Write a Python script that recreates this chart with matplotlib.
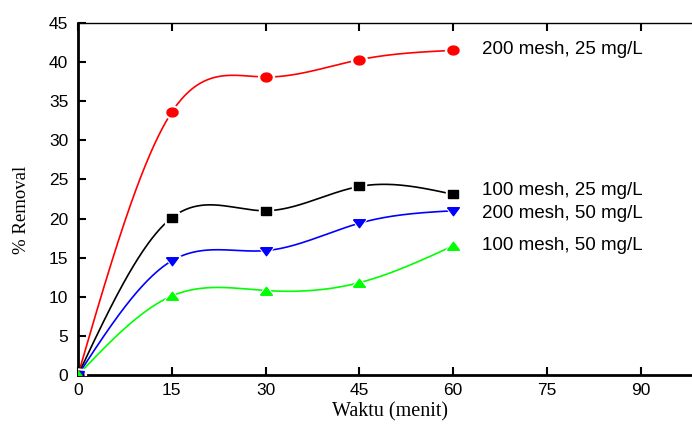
import numpy as np
import matplotlib
matplotlib.use("Agg")
import matplotlib.pyplot as plt

# waktu (menit) and % removal
waktu = [0, 15, 30, 45, 60]
r200_25 = [0, 33.6, 38.1, 40.3, 41.5]
r100_25 = [0, 20.1, 21.0, 24.1, 23.1]
r200_50 = [0, 14.6, 15.9, 19.4, 21.0]
r100_50 = [0, 10.1, 10.8, 11.8, 16.5]
labels = ["200 mesh, 25 mg/L", "100 mesh, 25 mg/L",
          "200 mesh, 50 mg/L", "100 mesh, 50 mg/L"]
label_y = [41.6, 23.6, 20.6, 16.6]

def spline(x, y, n=300):
    # natural cubic spline, only for drawing the smooth line
    x = np.asarray(x, float); y = np.asarray(y, float)
    m = len(x); h = np.diff(x)
    A = np.zeros((m, m)); b = np.zeros(m)
    A[0, 0] = A[-1, -1] = 1
    for i in range(1, m - 1):
        A[i, i-1] = h[i-1]; A[i, i] = 2*(h[i-1]+h[i]); A[i, i+1] = h[i]
        b[i] = 6*((y[i+1]-y[i])/h[i] - (y[i]-y[i-1])/h[i-1])
    M = np.linalg.solve(A, b)
    xs = np.linspace(x[0], x[-1], n)
    k = np.clip(np.searchsorted(x, xs) - 1, 0, m - 2)
    t0 = x[k+1] - xs; t1 = xs - x[k]; hk = h[k]
    ys = (M[k]*t0**3 + M[k+1]*t1**3)/(6*hk) + (y[k]/hk - M[k]*hk/6)*t0 + (y[k+1]/hk - M[k+1]*hk/6)*t1
    return xs, ys

# the original picture is stretched sideways, so are its symbols
sx = 1.25
th = np.linspace(0, 2*np.pi, 40)
m_circle = list(zip(sx*np.cos(th), np.sin(th)))
m_square = [(-sx*1.0, -1), (sx*1.0, -1), (sx*1.0, 1), (-sx*1.0, 1), (-sx*1.0, -1)]
m_tdown = [(-sx, 0.8), (sx, 0.8), (0, -0.9), (-sx, 0.8)]
m_tup = [(-sx, -0.8), (sx, -0.8), (0, 0.9), (-sx, -0.8)]

fig = plt.figure(figsize=(6.92, 4.26), dpi=100)
ax = fig.add_axes([78/692, 51/426, 625/692, 352/426])

series = [(r200_25, "#ff0000", m_circle, 8), (r100_25, "black", m_square, 7),
          (r200_50, "#0000ff", m_tdown, 8.5), (r100_50, "#00ff00", m_tup, 8.5)]
for (vals, c, mk, ms), lab, ly in zip(series, labels, label_y):
    xs, ys = spline(waktu, vals)
    ax.plot(xs, ys, color=c, lw=1.2, zorder=2)
    ax.plot(waktu, vals, ls="none", marker=mk, ms=ms+3.5, color="white", zorder=3)
    ax.plot(waktu, vals, ls="none", marker=mk, ms=ms, color=c, zorder=4)
    ax.text(64.6, ly, lab, fontsize=13.5, family="Liberation Sans", va="center", ha="left")

ax.set_xlim(0, 100)
ax.set_ylim(0, 45)
ax.set_xticks(np.arange(0, 91, 15))
ax.set_yticks(np.arange(0, 46, 5))
ax.tick_params(direction="in", length=6, width=1.5, top=True, labelsize=12.5, pad=7)
ax.tick_params(axis="x", top=True, pad=6)
for lbl in ax.get_xticklabels() + ax.get_yticklabels():
    lbl.set_family("Liberation Sans")
ax.spines["left"].set_linewidth(2)
ax.spines["bottom"].set_linewidth(2)
ax.spines["top"].set_linewidth(1)
ax.spines["right"].set_visible(False)
ax.set_xlabel("Waktu (menit)", family="Liberation Serif", fontsize=14.5, labelpad=3)
ax.set_ylabel("% Removal", family="Liberation Serif", fontsize=13.5)
ax.yaxis.set_label_coords(-0.076, 0.47)

fig.savefig("out.png", dpi=100)
